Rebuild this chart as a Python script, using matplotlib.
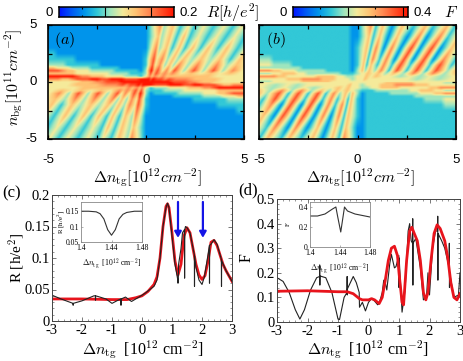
import numpy as np
import matplotlib
matplotlib.use("Agg")
import matplotlib.pyplot as plt
from matplotlib.colors import LinearSegmentedColormap
from matplotlib.ticker import MultipleLocator

plt.rcParams['mathtext.fontset'] = 'cm'
W, H = 463, 361

# ---------- heat-map readings (colour level 0-9); the lower half is the point mirror of the upper half
left_x = [-5 + 0.25 * i for i in range(20)]
left_y = [0, .25, .5, .75, 1, 1.25, 1.5, 2, 2.5, 3, 3.5, 4, 4.5, 5]
a_left = [
 "55555556667788899999", "77766788899889998889", "99999987766655554443", "66666655555554444333",
 "88876655544444333332", "66555444433333322222", "44443333333222222222", "33333322222222222222",
 "33222222222222222222", "22222222222222222222", "22222222222222222222", "22222222222222222222",
 "22222222222222222222", "22222222222222222222",
]
b_left = [
 "44455555566666655555", "55555566677776665554", "77776655555566665544", "44455666554444444333",
 "77766555444444333332", "44444444433333333332", "55544443333333333332", "44433333333333333332",
 "33333333333333333332", "33333333333333333332", "33333333333333333332", "33333333333333333332",
 "33333333333333333332", "33333333333333333332",
]
# right half: ridge/valley lines in the fan of stripes
line_pos_y = [0, 1, 3, 5]
line_lvl_y = [0, .25, .5, .75, 1, 1.5, 2, 3, 4, 5]
a_line_pos = [
 (0, 0, 0, 0), (.1, .28, .52, .75), (.2, .42, .7, .95), (.3, .6, 1.05, 1.4), (.5, .85, 1.35, 1.8),
 (.7, 1.05, 1.7, 2.2), (.9, 1.25, 2.0, 2.5), (1.1, 1.45, 2.4, 3.0), (1.4, 1.95, 2.8, 3.5),
 (1.9, 2.45, 3.2, 4.05), (2.4, 2.95, 3.7, 4.5), (2.9, 3.45, 4.15, 4.95), (3.4, 3.95, 4.7, 5.4),
 (3.9, 4.45, 5.2, 6), (4.4, 4.95, 5.7, 6.5), (5.0, 5.5, 6, 7),
]
a_line_lvl = [
 (9,9,5,4,4,3,3,2,2,2), (9,9,7,8,9,8,8,7,6,7), (9,8,6,6,6,5,5,4,4,4), (9,9,7,8,8,7,7,6,6,6),
 (9,8,6,6,5,4,4,3,3,3), (9,8,7,7,7,6,6,6,6,5), (9,7,6,6,5,4,4,3,3,3), (9,8,6,7,8,7,6,6,5,5),
 (8,7,6,5,4,4,4,3,3,3), (8,7,6,6,8,7,6,6,5,5), (7,6,6,5,4,4,4,3,3,3), (6,6,6,6,8,7,6,6,5,5),
 (6,6,5,5,4,4,3,3,3,3), (5,5,5,6,7,6,6,5,5,5), (5,5,5,5,5,5,4,3,3,3), (5,5,5,5,5,5,5,5,5,5),
]
b_line_pos = [
 (0, 0, 0, 0), (.1, .25, .48, .7), (.2, .4, .68, .95), (.3, .6, .95, 1.3), (.5, .9, 1.35, 1.8),
 (.7, 1.2, 1.75, 2.3), (1, 1.6, 2.2, 2.9), (1.4, 2, 2.75, 3.5), (1.9, 2.5, 3.2, 3.9),
 (2.4, 3, 3.8, 4.6), (2.9, 3.5, 4.25, 5), (3.4, 4, 4.8, 5.6), (4, 4.6, 5.4, 6.2), (4.6, 5.2, 6, 6.8),
]
b_line_lvl = [
 (5,5,5,4,4,3,3,3,2,2), (5,5,5,5,6,6,6,6,6,7), (5,5,5,5,4,3,3,3,3,3), (5,6,6,6,6,6,7,7,6,6),
 (5,5,5,5,4,3,3,2,2,2), (5,5,6,6,7,7,7,7,6,6), (5,5,5,4,3,3,2,2,2,3), (5,5,5,6,8,8,8,8,7,6),
 (5,5,4,4,3,3,2,2,2,3), (5,5,5,7,8,8,8,8,7,6), (5,4,4,4,3,3,2,2,3,3), (5,5,5,7,8,8,7,6,6,6),
 (5,4,4,4,4,3,3,3,3,3), (5,5,5,6,7,7,6,6,6,6),
]
cbar_colors = ["#0014ff", "#005af5", "#0096eb", "#32c8d7", "#a0e6be",
               "#f5eb9b", "#ffc373", "#ff8c55", "#ff5028", "#ff1400"]

# ---------- panel (c)
c_red_x = [-3,-2,-1,-.5,-.2,0,.2,.4,.5,.6,.7,.8,.85,.9,1,1.1,1.2,1.3,1.4,1.5,1.6,1.7,1.8,1.9,2,2.1,2.2,2.3,2.4,2.5,2.6,2.7,2.8,3]
c_red_y = [.035,.035,.034,.034,.037,.04,.047,.058,.07,.1,.15,.182,.186,.18,.14,.095,.073,.09,.135,.148,.14,.115,.09,.073,.066,.072,.095,.125,.128,.12,.105,.09,.08,.063]
c_blk_x = [-3,-2.7,-2.3,-2.295,-2.29,-2,-1.6,-1.555,-1.55,-1.545,-1.2,-1,-.8,-.705,-.7,-.695,-.55,-.35,-.1,.1,.4,.5,.6,.7,.8,.85,.9,1,1.1,1.19,1.2,1.21,1.22,1.3,1.35,1.415,1.42,1.425,1.45,1.5,1.6,1.745,1.75,1.755,1.8,1.9,2,2.08,2.2,2.245,2.25,2.255,2.3,2.4,2.5,2.645,2.65,2.655,2.8,3]
c_blk_y = [.041,.035,.028,.025,.028,.032,.04,.04,.033,.04,.035,.028,.033,.035,.025,.035,.038,.031,.038,.044,.055,.065,.1,.15,.18,.187,.18,.135,.09,.066,.06,.066,.09,.115,.14,.145,.068,.145,.15,.148,.14,.105,.055,.103,.085,.065,.058,.07,.105,.12,.06,.12,.122,.129,.122,.098,.055,.096,.08,.063]
arrow_x = [1.2, 2.03]
arrow_y = [.189, .132]
c_ins_x = [1.4,1.41,1.42,1.425,1.43,1.435,1.44,1.445,1.45,1.455,1.46,1.47,1.48]
c_ins_y = [.15,.15,.148,.142,.125,.09,.072,.09,.125,.14,.146,.15,.15]

# ---------- panel (d)
d_red_x = [-3,-2,-1,-.7,-.5,-.4,-.3,-.2,0,.1,.2,.35,.45,.55,.65,.75,.85,.95,1,1.1,1.15,1.25,1.35,1.42,1.5,1.6,1.7,1.8,1.88,1.95,2.05,2.15,2.25,2.35,2.5,2.6,2.7,2.8,2.9,3]
d_red_y = [.125,.127,.123,.123,.115,.105,.095,.09,.09,.095,.09,.075,.1,.17,.25,.3,.308,.27,.2,.08,.07,.25,.37,.385,.36,.33,.25,.12,.09,.12,.25,.36,.395,.38,.33,.26,.16,.1,.09,.115]
d_blk_x = [-3,-2.8,-2.6,-2.4,-2.25,-2.1,-1.9,-1.7,-1.605,-1.6,-1.595,-1.59,-1.4,-1.2,-1,-.95,-.8,-.705,-.7,-.695,-.69,-.5,-.4,-.305,-.3,-.295,-.2,-.1,0,.1,.2,.3,.35,.45,.5,.55,.6,.7,.75,.85,.9,.995,1,1.005,1.1,1.2,1.3,1.35,1.4,1.445,1.45,1.455,1.46,1.55,1.7,1.8,1.9,1.95,2,2.1,2.2,2.265,2.27,2.275,2.28,2.4,2.5,2.645,2.65,2.655,2.66,2.8,2.95,3]
d_blk_y = [.18,.165,.12,.05,.012,.05,.13,.18,.185,.232,.15,.187,.18,.12,.012,.01,.1,.12,.185,.11,.135,.185,.16,.12,.09,.06,.08,.045,.08,.095,.085,.07,.075,.12,.17,.16,.13,.24,.275,.22,.225,.27,.14,.26,.04,.13,.37,.4,.33,.32,.42,.15,.32,.34,.22,.09,.1,.2,.11,.3,.37,.37,.43,.17,.36,.33,.3,.22,.32,.14,.2,.1,.11,.2]
d_ins_x = [1.4,1.41,1.42,1.43,1.4345,1.437,1.441,1.444,1.446,1.45,1.46,1.48]
d_ins_y = [.31,.31,.33,.38,.4,.3,.15,.3,.4,.36,.33,.3]

sans, serif = 'Liberation Sans', 'Liberation Serif'

def box(l, t, r, b):
    return [l / W, 1 - b / H, (r - l) / W, (b - t) / H]

fig = plt.figure(figsize=(W / 100, H / 100), dpi=100)
cmap = LinearSegmentedColormap.from_list('rb', cbar_colors)

def full_field(left, pos, lvl, vmax):
    """Lay the read levels onto a fine raster, following the read stripe lines."""
    L = np.array([[int(c) for c in r] for r in left], float)
    P = np.array(pos, float)
    V = np.array(lvl, float)
    fine_y = np.linspace(0, 5, 201)
    fine_x = np.linspace(-5, 5, 401)
    up = np.zeros((fine_y.size, fine_x.size))
    for j, y in enumerate(fine_y):
        lv = [np.interp(y, left_y, L[:, i]) for i in range(L.shape[1])]
        px = [np.interp(y, line_pos_y, P[k]) for k in range(P.shape[0])]
        pv = [np.interp(y, line_lvl_y, V[k]) for k in range(V.shape[0])]
        up[j] = np.interp(fine_x, left_x + px, lv + pv)
    return np.vstack([up[:0:-1, ::-1], up]) / 9 * vmax

def heat(rect, left, pos, lvl, vmax, tag, tagx):
    ax = fig.add_axes(box(*rect))
    ax.imshow(full_field(left, pos, lvl, vmax), origin='lower', extent=[-5, 5, -5, 5], aspect='auto',
              cmap=cmap, vmin=0, vmax=vmax, interpolation='bilinear')
    ax.set_xlim(-5, 5); ax.set_ylim(-5, 5)
    ax.set_xticks([-5, -2.5, 0, 2.5, 5], ['-5', '', '0', '', '5'])
    ax.set_yticks([-5, -2.5, 0, 2.5, 5])
    ax.tick_params(direction='in', top=True, right=True, length=3, width=.9,
                   labelleft=False, pad=11, labelsize=9.5)
    for l in ax.get_xticklabels():
        l.set_fontfamily(sans)
    for s in ax.spines.values():
        s.set_linewidth(1.2)
    fig.text(tagx / W, 1 - 40 / H, tag, fontsize=11.5, ha='center', va='center')
    return ax

axa = heat((48, 25, 244, 139), a_left, a_line_pos, a_line_lvl, .2, r'$(a)$', 65)
axb = heat((259, 25, 456, 139), b_left, b_line_pos, b_line_lvl, .4, r'$(b)$', 276)
for v, s in [(-5, '-5'), (0, '0'), (5, '5')]:
    axa.annotate(s, (0, v), xycoords=axa.get_yaxis_transform(), xytext=(-8, 0),
                 textcoords='offset points', ha='right', va='center', fontsize=9.5, family=sans)

def bar(rect, vmax, full, short, lo, hi, name, namex):
    cax = fig.add_axes(box(*rect))
    grad = np.linspace(0, vmax, 256)[None, :]
    cax.imshow(grad, aspect='auto', cmap=cmap, vmin=0, vmax=vmax, extent=[0, 1, 0, 1], interpolation='bilinear')
    cax.set_yticks([]); cax.set_xticks([])
    cax.vlines(full, 0, 1, color='k', lw=.8)
    cax.vlines(short, 0, .18, color='k', lw=.8)
    cax.vlines(short, .82, 1, color='k', lw=.8)
    for s in cax.spines.values():
        s.set_linewidth(1.1)
    y = (rect[1] + rect[3]) / 2 + .5
    fig.text((rect[0] - 6) / W, 1 - y / H, lo, ha='right', va='center', fontsize=9.5, family=sans)
    fig.text((rect[2] + 6) / W, 1 - y / H, hi, ha='left', va='center', fontsize=9.5, family=sans)
    fig.text(namex / W, 1 - y / H, name, ha='left', va='center', fontsize=11.5)

bar((59, 7, 174, 17), .2, [.4, .8], [.2, .6], '0', '0.2', r'$R[h/e^2]$', 206)
bar((293, 7, 408, 17), .4, [.475, .955], [.235, .715], '0', '0.4', r'$F$', 444)

fig.text(14 / W, 1 - 77 / H, r'$n_{\rm bg}[10^{11}cm^{-2}]$', rotation=90, ha='center', va='center', fontsize=11.5)
fig.text(147 / W, 1 - 178 / H, r'$\Delta n_{\rm tg}[10^{12}cm^{-2}]$', ha='center', va='center', fontsize=11.5)
fig.text(360 / W, 1 - 178 / H, r'$\Delta n_{\rm tg}[10^{12}cm^{-2}]$', ha='center', va='center', fontsize=11.5)

def curve_axes(rect, ymax, ymin, yticks, ylabs):
    ax = fig.add_axes(box(*rect))
    ax.set_xlim(-3, 3); ax.set_ylim(0, ymax)
    ax.xaxis.set_minor_locator(MultipleLocator(.2))
    ax.yaxis.set_minor_locator(MultipleLocator(ymin))
    ax.set_yticks(yticks, ylabs, family=serif)
    ax.set_xticks([-3, -2, -1, 0, 1, 2, 3], ['-3', '-2', '-1', '0', '1', '2', '3'], family=serif)
    ax.tick_params(which='major', direction='in', top=True, right=True, length=3, width=.5,
                   labelsize=10.5, color='#444444')
    ax.tick_params(axis='x', which='major', pad=2)
    ax.tick_params(axis='y', which='major', pad=1.5)
    ax.tick_params(which='minor', direction='in', top=True, right=True, length=1.5, width=.4, color='#444444')
    for s in ax.spines.values():
        s.set_linewidth(.7); s.set_color('#444444')
    return ax

axc = curve_axes((52, 195, 232, 321), .2, .01, [0, .05, .1, .15, .2], ['0', '0.05', '0.1', '0.15', '0.2'])
axc.plot(c_red_x, c_red_y, color='#e8141c', lw=2.0, solid_joinstyle='round')
axc.plot(c_blk_x, c_blk_y, color='#222222', lw=.8)
for ax0 in arrow_x:
    axc.annotate('', xy=(ax0, arrow_y[1]), xytext=(ax0, arrow_y[0]),
                 arrowprops=dict(arrowstyle='-|>,head_width=.2,head_length=.35', color='#1414e6', lw=1.6, shrinkA=0, shrinkB=0))
axd = curve_axes((277, 199, 460, 322), .5, .02, [0, .1, .2, .3, .4, .5], ['0', '0.1', '0.2', '0.3', '0.4', '0.5'])
axd.plot(d_blk_x, d_blk_y, color='#222222', lw=.8)
axd.plot(d_red_x, d_red_y, color='#e8141c', lw=2.0, solid_joinstyle='round')

fig.text(12 / W, 1 - 193 / H, '(c)', family=serif, fontsize=12, ha='center', va='center')
fig.text(248 / W, 1 - 190 / H, '(d)', family=serif, fontsize=12, ha='center', va='center')
fig.text(17 / W, 1 - 258 / H, 'R [h/e$^2$]', family=serif, fontsize=11, rotation=90, ha='center', va='center')
fig.text(247 / W, 1 - 258 / H, 'F', family=serif, fontsize=11.5, rotation=90, ha='center', va='center')
xlab = r'$\Delta n_{\rm tg}$  [10$^{12}$ cm$^{-2}$]'
for cx in (143, 368):
    fig.text(cx / W, 1 - 350 / H, xlab, family=serif, fontsize=11.5, ha='center', va='center')

def inset(rect, xs, ys_, ylim, yt, yl, name, namex):
    a = fig.add_axes(box(*rect))
    a.plot(xs, ys_, color='#333333', lw=.8)
    a.set_xlim(1.4, 1.48); a.set_ylim(*ylim)
    a.set_xticks([1.4, 1.44, 1.48], ['1.4', '1.44', '1.48'], family=serif)
    a.set_yticks(yt, yl, family=serif)
    a.tick_params(direction='in', length=1.5, width=.4, labelsize=5.5, pad=1.5, color='#777777')
    for s in a.spines.values():
        s.set_linewidth(.6); s.set_color('#888888')
    fig.text(namex / W, 1 - (rect[1] + rect[3]) / 2 / H, name, family=serif, fontsize=5,
             rotation=90, ha='center', va='center')
    a.set_xlabel(r'$\Delta n_{\rm tg}$  [10$^{12}$ cm$^{-2}$]', family=serif, fontsize=5.5, labelpad=3)

inset((81, 202, 142, 242), c_ins_x, c_ins_y, (.05, .18), [.05, .1, .15], ['0.05', '0.1', '0.15'], 'R [h/e$^2$]', 61)
inset((310, 202, 370, 247), d_ins_x, d_ins_y, (0, .45), [0, .2, .4], ['0', '0.2', '0.4'], 'F', 288)

fig.savefig('out.png', dpi=100)
